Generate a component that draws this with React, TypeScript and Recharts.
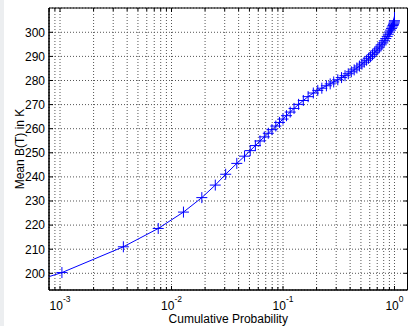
import { LineChart, Line, XAxis, YAxis, CartesianGrid, ReferenceArea } from "recharts";

// cumulative probability (x, log scale)
const probabilities = [
  0.0005, 0.00104, 0.0037, 0.0076, 0.0128, 0.0187, 0.0247, 0.0306, 0.0385, 0.0452,
  0.0508, 0.0565, 0.0622, 0.068, 0.0738, 0.0796, 0.0862, 0.093, 0.1, 0.1075,
  0.116, 0.1256, 0.138, 0.1521, 0.168, 0.187, 0.205, 0.223, 0.245, 0.265,
  0.285, 0.31, 0.335, 0.36, 0.385, 0.41, 0.435, 0.46, 0.485, 0.51,
  0.535, 0.56, 0.585, 0.61, 0.635, 0.66, 0.685, 0.71, 0.735, 0.76,
  0.785, 0.81, 0.835, 0.86, 0.88, 0.9, 0.92, 0.94, 0.955, 0.97,
  0.98, 0.99, 0.996, 1.0, 1.0,
];

// mean brightness temperature in K
const meanBT = [
  195.7, 200.3, 211.0, 218.6, 225.4, 231.4, 236.6, 241.1, 245.6, 248.6,
  250.9, 253.0, 254.9, 256.6, 258.1, 259.6, 261.1, 262.6, 264.0, 265.4,
  266.9, 268.4, 270.1, 271.7, 273.3, 274.8, 275.9, 276.8, 277.8, 278.6,
  279.4, 280.3, 281.2, 282.0, 282.8, 283.6, 284.4, 285.2, 286.0, 286.8,
  287.6, 288.4, 289.2, 289.9, 290.7, 291.5, 292.3, 293.1, 293.9, 294.8,
  295.6, 296.5, 297.4, 298.3, 299.2, 300.1, 300.9, 301.6, 302.2, 302.8,
  303.3, 303.8, 304.3, 304.8, 320.0,
];

const xMajorTicks = [0.001, 0.01, 0.1, 1];
const xTicks = [
  0.0008, 0.0009,
  0.001, 0.002, 0.003, 0.004, 0.005, 0.006, 0.007, 0.008, 0.009,
  0.01, 0.02, 0.03, 0.04, 0.05, 0.06, 0.07, 0.08, 0.09,
  0.1, 0.2, 0.3, 0.4, 0.5, 0.6, 0.7, 0.8, 0.9,
  1,
];
const yTicks = [200, 210, 220, 230, 240, 250, 260, 270, 280, 290, 300];

const X_DOMAIN: [number, number] = [7.965e-4, 1.308];
const Y_DOMAIN: [number, number] = [193.07, 310.08];

const W = 409;
const H = 326;
const MARGIN = { top: 8, right: 1.5, bottom: 0, left: 0 };
const FONT = "'Liberation Sans', Arial, Helvetica, sans-serif";
const BLUE = "#0000ff";

const data = probabilities.map((p, i) => ({ p, bt: meanBT[i] }));

function XTick(props: any) {
  const { x, y, payload } = props;
  const v = payload.value;
  const major = xMajorTicks.includes(v);
  const len = major ? 4 : 3;
  const exp = Math.round(Math.log10(v));
  return (
    <g>
      <line x1={x} x2={x} y1={y} y2={y - len} stroke="#000" />
      <line x1={x} x2={x} y1={MARGIN.top} y2={MARGIN.top + len} stroke="#000" />
      {major && (
        <text x={x} y={y + 20} textAnchor="middle" fontSize={12} fontFamily={FONT} fill="#000">
          10
          <tspan dy={-8} fontSize={8.5}>
            {exp}
          </tspan>
        </text>
      )}
    </g>
  );
}

function YTick(props: any) {
  const { x, y, payload } = props;
  const right = W - MARGIN.right;
  return (
    <g>
      <line x1={x} x2={x + 4} y1={y} y2={y} stroke="#000" />
      <line x1={right} x2={right - 4} y1={y} y2={y} stroke="#000" />
      <text x={x - 4} y={y} dy="0.36em" textAnchor="end" fontSize={12} fontFamily={FONT} fill="#000">
        {payload.value}
      </text>
    </g>
  );
}

function PlusDot(props: any) {
  const { cx, cy, index } = props;
  if (cx == null || cy == null) return <g key={index} />;
  const r = 5.5;
  return (
    <g key={index}>
      <line x1={cx - r} x2={cx + r} y1={cy} y2={cy} stroke={BLUE} strokeWidth={1} />
      <line x1={cx} x2={cx} y1={cy - r} y2={cy + r} stroke={BLUE} strokeWidth={1} />
    </g>
  );
}

export default function App() {
  return (
    <div style={{ position: "absolute", left: 0, top: 0, width: W, height: H, background: "#fff" }}>
      <div style={{ position: "absolute", left: 0, top: 0, width: 4, height: H, background: "#eceef0" }} />
      <LineChart width={W} height={H} data={data} margin={MARGIN}>
        <CartesianGrid stroke="#555" strokeDasharray="1 2" />
        <XAxis
          dataKey="p"
          type="number"
          scale="log"
          domain={X_DOMAIN}
          allowDataOverflow
          ticks={xTicks}
          interval={0}
          height={36}
          tickSize={0}
          tickMargin={0}
          tickLine={false}
          axisLine={{ stroke: "#000" }}
          tick={XTick}
          label={{
            content: (p: any) => {
              const vb = p.viewBox;
              return (
                <text x={vb.x + vb.width / 2} y={vb.y + 33} textAnchor="middle" fontSize={12} fontFamily={FONT} fill="#000">
                  Cumulative Probability
                </text>
              );
            },
          }}
        />
        <YAxis
          type="number"
          domain={Y_DOMAIN}
          allowDataOverflow
          ticks={yTicks}
          interval={0}
          width={49}
          tickSize={0}
          tickMargin={0}
          tickLine={false}
          axisLine={{ stroke: "#000" }}
          tick={YTick}
          label={{
            content: (p: any) => {
              const vb = p.viewBox;
              const cx = vb.x + 24;
              const cy = vb.y + vb.height / 2;
              return (
                <text x={cx} y={cy} transform={`rotate(-90, ${cx}, ${cy})`} textAnchor="middle" fontSize={12} fontFamily={FONT} fill="#000">
                  Mean B(T) in K
                </text>
              );
            },
          }}
        />
        <ReferenceArea x1={X_DOMAIN[0]} x2={X_DOMAIN[1]} y1={Y_DOMAIN[0]} y2={Y_DOMAIN[1]} fill="none" stroke="#000" strokeWidth={1} />
        <Line
          dataKey="bt"
          type="linear"
          stroke={BLUE}
          strokeWidth={1}
          dot={PlusDot}
          activeDot={false}
          isAnimationActive={false}
        />
      </LineChart>
    </div>
  );
}
